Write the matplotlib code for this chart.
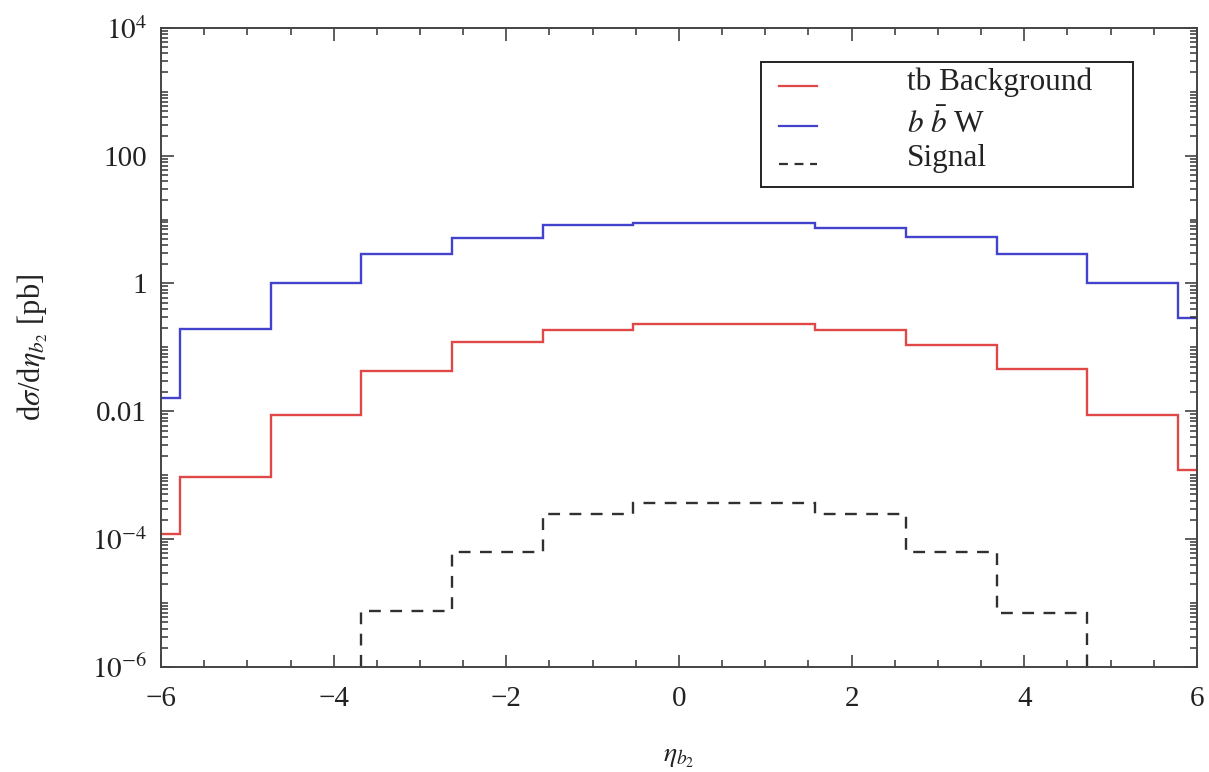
"""Pseudo-rapidity distribution of the second b jet: tb / bbW backgrounds and signal."""

import matplotlib

matplotlib.use("Agg")
import matplotlib.pyplot as plt
import numpy as np
from matplotlib.lines import Line2D
from matplotlib.patches import Rectangle
from matplotlib.ticker import (FixedFormatter, FixedLocator, LogLocator, MultipleLocator,
                               NullFormatter)

plt.rcParams["font.family"] = ["Liberation Serif", "DejaVu Serif"]
plt.rcParams["mathtext.fontset"] = "stix"

# bin edges in eta_b2 (outer partial bins at the plot edges)
eta_edges = [-6.0, -5.78, -4.73, -3.68, -2.63, -1.58, -0.53, 0.53, 1.58, 2.63, 3.68, 4.73, 5.78, 6.0]

# dsigma/deta [pb], one value per bin
tb_background = [1.2e-4, 9.5e-4, 8.9e-3, 4.2e-2, 0.12, 0.186, 0.23, 0.23, 0.19, 0.11, 4.6e-2, 8.9e-3, 1.2e-3]
bbw_background = [1.6e-2, 0.196, 1.0, 2.9, 5.1, 8.1, 8.8, 8.8, 7.4, 5.4, 2.9, 1.0, 0.29]
# signal only populates the central bins (edges index 3 .. 11)
signal_edges = eta_edges[3:12]
signal = [7.4e-6, 6.2e-5, 2.5e-4, 3.7e-4, 3.7e-4, 2.5e-4, 6.2e-5, 6.9e-6]

x_major = [-6, -4, -2, 0, 2, 4, 6]
y_major = [1e-6, 1e-4, 1e-2, 1.0, 1e2, 1e4]
y_major_labels = [r"$10^{-6}$", r"$10^{-4}$", "0.01", "1", "100", r"$10^{4}$"]

RED = "#e04848"
BLUE = "#4242cc"
DARK = "#303030"

fig = plt.figure(figsize=(12.09, 7.72), dpi=100)
ax = fig.add_axes([0.1332, 0.136, 0.8568, 0.828])

ax.stairs(tb_background, eta_edges, color=RED, linewidth=1.7, baseline=None)
ax.stairs(bbw_background, eta_edges, color=BLUE, linewidth=1.7, baseline=None)
ax.stairs(signal, signal_edges, color=DARK, linewidth=1.7, linestyle=(0, (5, 4)), baseline=1e-8)

ax.set_yscale("log")
ax.set_xlim(-6, 6)
ax.set_ylim(1e-6, 1e4)

ax.xaxis.set_major_locator(FixedLocator(x_major))
ax.xaxis.set_major_formatter(FixedFormatter([str(v).replace("-", "\u2212") for v in x_major]))
ax.xaxis.set_minor_locator(MultipleLocator(0.5))

ax.yaxis.set_major_locator(FixedLocator(y_major))
ax.yaxis.set_major_formatter(FixedFormatter(y_major_labels))
ax.yaxis.set_minor_locator(LogLocator(base=10, subs=np.arange(1, 10), numticks=40))
ax.yaxis.set_minor_formatter(NullFormatter())

ax.tick_params(which="both", direction="in", top=True, right=True, colors="#333333",
               labelcolor="#222222", labelsize=21, width=1.1)
ax.tick_params(which="major", length=9)
ax.tick_params(axis="x", which="major", pad=14)
ax.tick_params(axis="y", which="major", pad=10)
ax.tick_params(which="minor", length=5)
for side in ax.spines.values():
    side.set_color("#444444")
    side.set_linewidth(1.4)

xlab = ax.set_xlabel(r"$\eta_{b_2}$", fontsize=20, color="#222222")
xlab.set_va("center")
ax.xaxis.set_label_coords(0.5, -0.142)
ylab = ax.set_ylabel(r"d$\sigma$/d$\eta_{b_2}$ [pb]", fontsize=22, color="#222222")
ylab.set_va("center")
ax.yaxis.set_label_coords(-0.124, 0.5)

# legend drawn by hand to follow the original box layout
ax.add_patch(Rectangle((0.579, 0.751), 0.359, 0.195, transform=ax.transAxes,
                       facecolor="white", edgecolor="#222222", linewidth=1.4, zorder=5))
legend_rows = [
    ("tb Background", RED, "-", 0.909, 0.915),
    (r"$b\ \bar{b}$ W", BLUE, "-", 0.846, 0.850),
    ("Signal", DARK, (0, (4, 3)), 0.787, 0.796),
]
for label, color, style, y_line, y_text in legend_rows:
    ax.add_line(Line2D([0.597, 0.633], [y_line, y_line], transform=ax.transAxes,
                       color=color, linestyle=style, linewidth=1.6, zorder=6))
    ax.text(0.720, y_text, label, transform=ax.transAxes, fontsize=22.5,
            va="center", ha="left", color="#222222", zorder=6)

fig.savefig("out.png", dpi=100)
